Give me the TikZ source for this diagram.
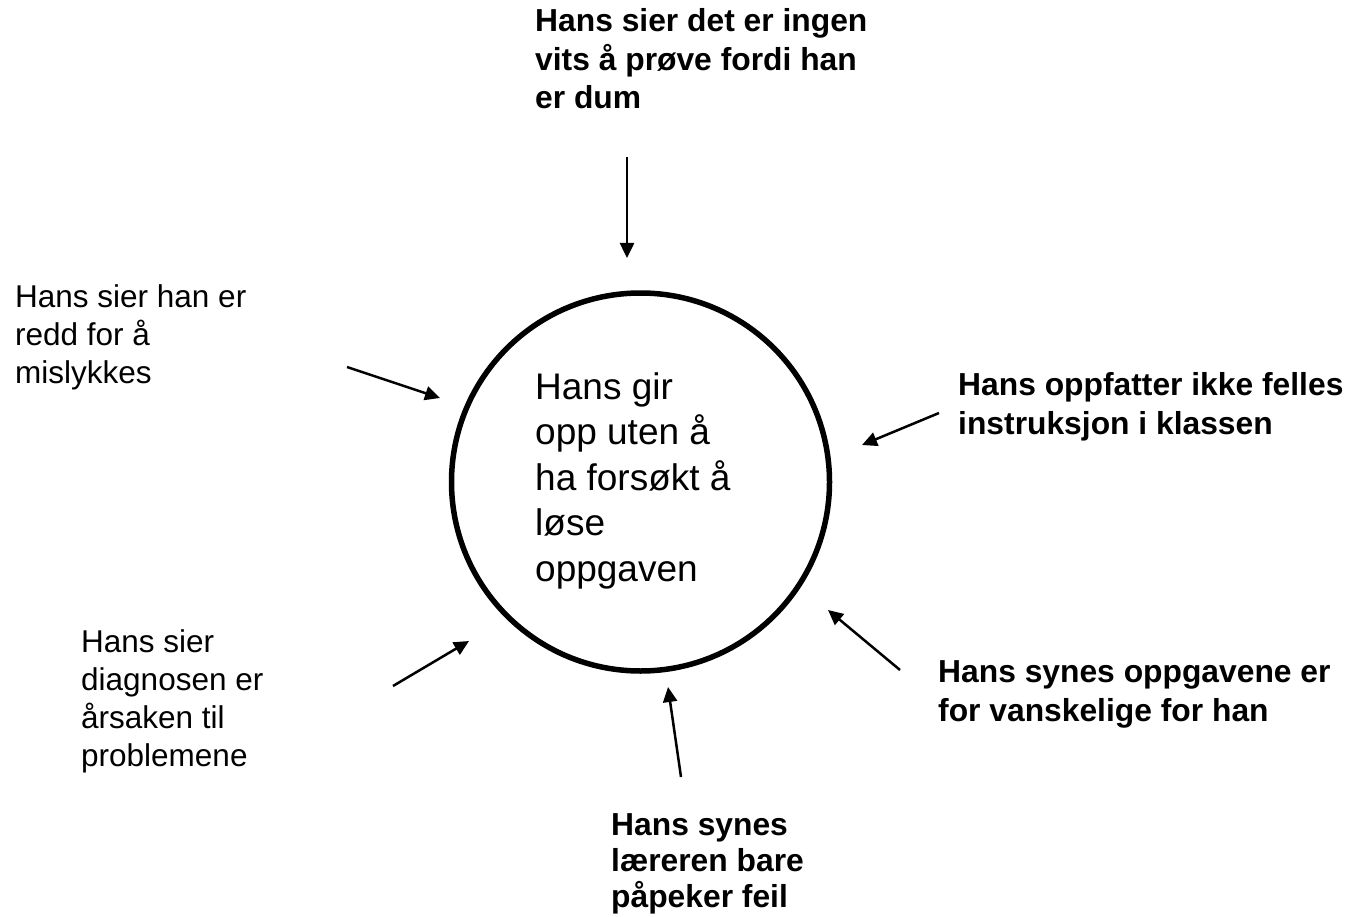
\documentclass[tikz,border=0pt]{standalone}
\usepackage{fontspec}
\setmainfont{Liberation Sans}
\usetikzlibrary{arrows.meta}
\begin{document}
\begin{tikzpicture}[x=1pt,y=-1pt,
  lbl/.style={anchor=base west, align=left, inner sep=0pt, font=\fontsize{31.5}{38}\selectfont},
  blbl/.style={anchor=base west, align=left, inner sep=0pt, font=\fontsize{31.8}{38.5}\selectfont\bfseries},
  blbltight/.style={anchor=base west, align=left, inner sep=0pt, font=\fontsize{31.8}{36}\selectfont\bfseries},
  centertext/.style={anchor=base west, align=left, inner sep=0pt, font=\fontsize{37}{45.5}\selectfont},
  ring/.style={circle, draw, line width=5.5pt, minimum size=378pt, inner sep=0pt},
  arr/.style={line width=2.5pt, -{Triangle[length=15pt,width=14pt]}}]
\useasboundingbox (0,0) rectangle (1348,917);

\node[ring] (circ) at (640.5,482) {};
% nodes are placed at the baseline of their last line
\node[centertext] (ctext) at (535,581) {Hans gir\\opp uten å\\ha forsøkt å\\løse\\oppgaven};

\node[blbl] (top) at (535,109) {Hans sier det er ingen\\vits å prøve fordi han\\er dum};
\node[lbl] (lu) at (15,383) {Hans sier han er\\redd for å\\mislykkes};
\node[blbl] (ru) at (958,434) {Hans oppfatter ikke felles\\instruksjon i klassen};
\node[blbl] (rl) at (938,721) {Hans synes oppgavene er\\for vanskelige for han};
\node[blbltight] (bot) at (611,907) {Hans synes\\læreren bare\\påpeker feil};
\node[lbl] (ll) at (81,766) {Hans sier\\diagnosen er\\årsaken til\\problemene};

\coordinate (topS) at (627,157);  \coordinate (topE) at (627,258);
\coordinate (luS) at (347,367);   \coordinate (luE) at (440,398);
\coordinate (ruS) at (939,413);   \coordinate (ruE) at (862,445);
\coordinate (rlS) at (900,670);   \coordinate (rlE) at (828,610);
\coordinate (botS) at (681,777);  \coordinate (botE) at (668,687);
\coordinate (llS) at (393,686);   \coordinate (llE) at (469,641);

\draw[arr] (topS) -- (topE);
\draw[arr] (luS) -- (luE);
\draw[arr] (ruS) -- (ruE);
\draw[arr] (rlS) -- (rlE);
\draw[arr] (botS) -- (botE);
\draw[arr] (llS) -- (llE);
\end{tikzpicture}
\end{document}
